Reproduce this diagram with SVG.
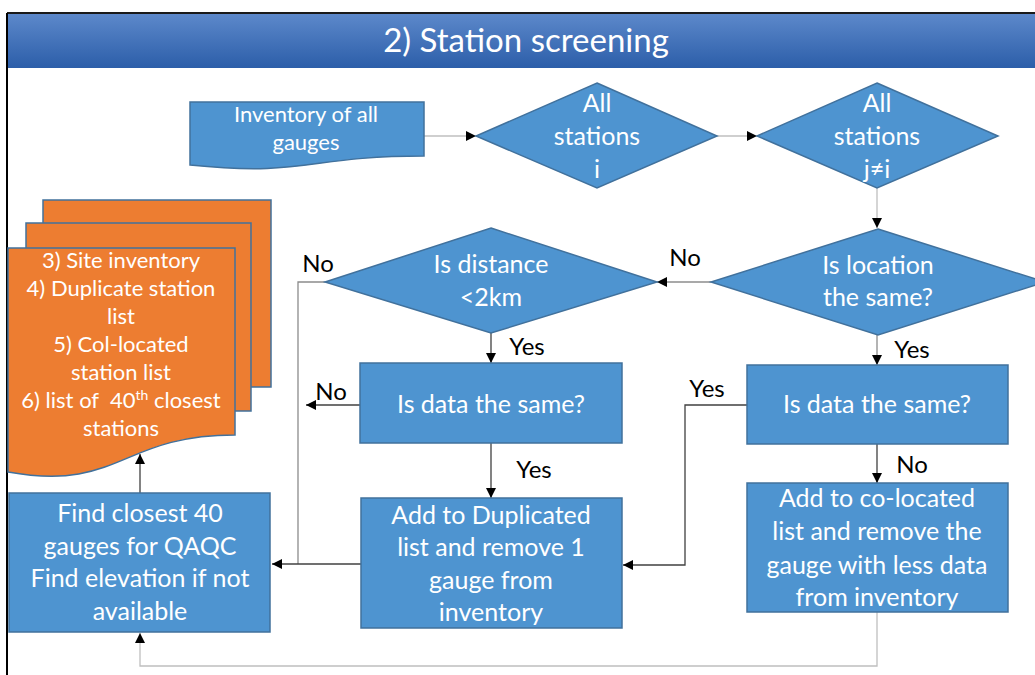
<svg xmlns="http://www.w3.org/2000/svg" width="1035" height="675" viewBox="0 0 1035 675">
  <style>
    .proc { fill: #4e94d0; stroke: #41719c; stroke-width: 1.5; }
    .doc-o { fill: #ed7d31; stroke: #41719c; stroke-width: 1.5; }
    .t { font-family: Lato, "Liberation Sans", sans-serif; fill: #ffffff; text-anchor: middle; }
    .big { font-size: 25px; }
    .mid { font-size: 22px; }
    .lbl { font-family: Lato, "Liberation Sans", sans-serif; font-size: 24px; fill: #000000; text-anchor: middle; }
    .c { fill: none; stroke-width: 1.3; }
    .lite { stroke: #bfbfbf; }
    .grey { stroke: #8c8c8c; }
    .dark { stroke: #404040; }
  </style>
  <defs>
    <linearGradient id="titleGrad" x1="0" y1="0" x2="0" y2="1">
      <stop offset="0" stop-color="#5d89cb"/>
      <stop offset="1" stop-color="#2c5ea9"/>
    </linearGradient>
    <marker id="arr" viewBox="0 0 10 10" refX="10" refY="5" markerWidth="11" markerHeight="10" markerUnits="userSpaceOnUse" orient="auto">
      <path d="M0,0 L10,5 L0,10 z" fill="#000000"/>
    </marker>
  </defs>

  <rect width="1035" height="675" fill="#ffffff"/>

  <!-- frame and title bar -->
  <g id="title">
    <rect x="7" y="13" width="1030" height="55" fill="url(#titleGrad)"/>
    <line x1="7" y1="13" x2="1035" y2="13" stroke="#1a1a1a" stroke-width="2"/>
    <line x1="7" y1="13" x2="7" y2="675" stroke="#000000" stroke-width="2"/>
    <text x="526" y="52" class="t" font-size="33">2) Station screening</text>
  </g>

  <!-- connectors -->
  <g id="connectors">
    <path class="c lite" d="M424,136 H476" marker-end="url(#arr)"/>
    <path class="c lite" d="M717,136 H757" marker-end="url(#arr)"/>
    <path class="c lite" d="M877,188 V228" marker-end="url(#arr)"/>
    <path class="c grey" d="M711,282 H657" marker-end="url(#arr)"/>
    <path class="c grey" d="M877,335 V365" marker-end="url(#arr)"/>
    <path class="c dark" d="M491,333 V363" marker-end="url(#arr)"/>
    <path class="c grey" d="M325,282 H298 V564"/>
    <path class="c dark" d="M360,405 H306" marker-end="url(#arr)"/>
    <path class="c dark" d="M491,443 V498" marker-end="url(#arr)"/>
    <path class="c dark" d="M361,564 H272" marker-end="url(#arr)"/>
    <path class="c dark" d="M747,405 H685 V565 H623" marker-end="url(#arr)"/>
    <path class="c dark" d="M877,444 V483" marker-end="url(#arr)"/>
    <path class="c lite" d="M877,612 V666 H140 V633" marker-end="url(#arr)"/>
    <path class="c dark" d="M140,493 V454" marker-end="url(#arr)"/>
    <text x="685" y="266" class="lbl">No</text>
    <text x="318" y="272" class="lbl">No</text>
    <text x="527" y="355" class="lbl">Yes</text>
    <text x="331" y="400" class="lbl">No</text>
    <text x="534" y="478" class="lbl">Yes</text>
    <text x="707" y="397" class="lbl">Yes</text>
    <text x="912" y="358" class="lbl">Yes</text>
    <text x="912" y="473" class="lbl">No</text>
  </g>

  <!-- inventory document -->
  <g id="inventory">
    <path class="proc" d="M190,102 H424 V156 C307,156 307,177 190,165 Z"/>
    <text class="t mid" x="306" y="122">Inventory of all</text>
    <text class="t mid" x="306" y="150">gauges</text>
  </g>

  <g id="all-i">
    <polygon class="proc" points="597,83 717,136 597,188 476,136"/>
    <text class="t big" x="597" y="112">All</text>
    <text class="t big" x="597" y="145">stations</text>
    <text class="t big" x="597" y="178">i</text>
  </g>

  <g id="all-j">
    <polygon class="proc" points="877,83 998,136 877,188 757,136"/>
    <text class="t big" x="877" y="112">All</text>
    <text class="t big" x="877" y="145">stations</text>
    <text class="t big" x="877" y="178">j≠i</text>
  </g>

  <g id="location-same">
    <polygon class="proc" points="878,229 1045,282 878,335 711,282"/>
    <text class="t big" x="878" y="274">Is location</text>
    <text class="t big" x="878" y="306">the same?</text>
  </g>

  <g id="distance">
    <polygon class="proc" points="491,228 657,282 491,333 325,282"/>
    <text class="t big" x="491" y="273">Is distance</text>
    <text class="t big" x="491" y="306">&lt;2km</text>
  </g>

  <g id="data-same-left">
    <rect class="proc" x="360" y="363" width="262" height="80"/>
    <text class="t big" x="491" y="413">Is data the same?</text>
  </g>

  <g id="data-same-right">
    <rect class="proc" x="747" y="365" width="261" height="79"/>
    <text class="t big" x="877" y="413">Is data the same?</text>
  </g>

  <g id="add-duplicated">
    <rect class="proc" x="361" y="498" width="261" height="130"/>
    <text class="t big" x="491" y="524">Add to Duplicated</text>
    <text class="t big" x="491" y="556">list and remove 1</text>
    <text class="t big" x="491" y="589">gauge from</text>
    <text class="t big" x="491" y="621">inventory</text>
  </g>

  <g id="add-colocated">
    <rect class="proc" x="747" y="483" width="261" height="129"/>
    <text class="t big" x="877" y="507">Add to co-located</text>
    <text class="t big" x="877" y="540">list and remove the</text>
    <text class="t big" x="877" y="574">gauge with less data</text>
    <text class="t big" x="877" y="606">from inventory</text>
  </g>

  <g id="find-closest">
    <rect class="proc" x="9" y="493" width="261" height="139"/>
    <text class="t big" x="140" y="522">Find closest 40</text>
    <text class="t big" x="140" y="555">gauges for QAQC</text>
    <text class="t big" x="140" y="587">Find elevation if not</text>
    <text class="t big" x="140" y="620">available</text>
  </g>

  <!-- stacked output documents -->
  <g id="outputs">
    <rect class="doc-o" x="43" y="200" width="228" height="187"/>
    <rect class="doc-o" x="26" y="223" width="225" height="188"/>
    <path class="doc-o" d="M8,248 H235 V435 C120,435 120,492 8,472 Z"/>
    <text class="t mid" x="121" y="268">3) Site inventory</text>
    <text class="t mid" x="121" y="296">4) Duplicate station</text>
    <text class="t mid" x="121" y="324">list</text>
    <text class="t mid" x="121" y="352">5) Col-located</text>
    <text class="t mid" x="121" y="380">station list</text>
    <text class="t mid" x="121" y="408">6) list of&#160; 40<tspan font-size="14" dy="-8">th</tspan><tspan dy="8"> closest</tspan></text>
    <text class="t mid" x="121" y="436">stations</text>
  </g>
</svg>
